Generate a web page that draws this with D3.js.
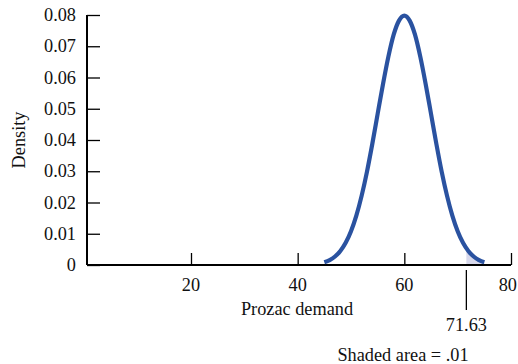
<!DOCTYPE html>
<html><head><meta charset="utf-8">
<script src="https://cdn.jsdelivr.net/npm/d3@7"></script>
<style>body{margin:0;background:#fff}</style>
</head><body>
<svg id="c" width="518" height="364"></svg>
<script>
// Data
const demandX = [45,46,47,48,49,50,51,52,53,54,55,56,57,58,59,60,61,62,63,64,65,66,67,68,69,70,71,72,73,74,75];
const density = [0.00089,0.00158,0.00272,0.00448,0.0071,0.0108,0.0158,0.0222,0.0299,0.0388,0.0484,0.0579,0.0666,0.0737,0.0782,0.0798,0.0782,0.0737,0.0666,0.0579,0.0484,0.0388,0.0299,0.0222,0.0158,0.0108,0.0071,0.00448,0.00272,0.00158,0.00089];
const cutoff = 71.63;
const cutoffDensity = 0.00534;
const xTicks = [20,40,60,80];
const yTicks = [0,0.01,0.02,0.03,0.04,0.05,0.06,0.07,0.08];
const yTickLabels = ["0","0.01","0.02","0.03","0.04","0.05","0.06","0.07","0.08"];

const FONT = "'Liberation Serif','Times New Roman',Times,serif";
const FS = 18.3;
const svg = d3.select("#c");
const x = d3.scaleLinear().domain([0.5,80]).range([87,511]);
const y = d3.scaleLinear().domain([0,0.08]).range([265,15]);

const pts = demandX.map((d,i)=>({x:d,y:density[i]}));
const shadePts = [{x:cutoff,y:cutoffDensity}].concat(pts.filter(p=>p.x>cutoff));

// shaded area
svg.append("path").datum(shadePts)
  .attr("d", d3.area().x(d=>x(d.x)).y0(y(0)).y1(d=>y(d.y)).curve(d3.curveMonotoneX))
  .attr("fill","#d8d9ec");

// axes
const yAxis = svg.append("g").attr("transform",`translate(${x(0.5)},0)`)
  .call(d3.axisRight(y).tickValues(yTicks).tickSize(13).tickFormat(""));
yAxis.select(".domain").attr("d",`M0,${y(0.08)}V${y(0)}`).attr("stroke","#000").attr("stroke-width",2);
yAxis.selectAll(".tick line").attr("stroke","#000").attr("stroke-width",1.3);
svg.selectAll(".ylab").data(yTicks).join("text")
  .attr("x",76).attr("y",d=>y(d)+6).attr("text-anchor","end")
  .attr("font-family",FONT).attr("font-size",FS).attr("fill","#111")
  .text((d,i)=>yTickLabels[i]);

const xAxis = svg.append("g").attr("transform",`translate(0,${y(0)})`)
  .call(d3.axisTop(x).tickValues(xTicks).tickSize(12).tickFormat(""));
xAxis.select(".domain").attr("d",`M${x(0.5)},0H${x(80)}`).attr("stroke","#000").attr("stroke-width",2);
xAxis.selectAll(".tick line").attr("stroke","#000").attr("stroke-width",1.3);
svg.selectAll(".xlab").data(xTicks).join("text")
  .attr("x",d=>Math.min(x(d), 517 - FS*0.5)).attr("y",291).attr("text-anchor","middle")
  .attr("font-family",FONT).attr("font-size",FS).attr("fill","#111")
  .text(d=>d);

// curve
svg.append("path").datum(pts)
  .attr("d", d3.line().x(d=>x(d.x)).y(d=>y(d.y)).curve(d3.curveMonotoneX))
  .attr("fill","none").attr("stroke","#2a52a0").attr("stroke-width",4.2).attr("stroke-linejoin","round");

// cutoff marker
svg.append("line").attr("x1",x(cutoff)).attr("x2",x(cutoff)).attr("y1",270).attr("y2",310)
  .attr("stroke","#000").attr("stroke-width",1.3);

function label(xp,yp,t,rot){
  const el = svg.append("text").attr("text-anchor","middle")
    .attr("font-family",FONT).attr("font-size",FS).attr("fill","#111").text(t);
  if(rot) el.attr("transform",`translate(${xp},${yp}) rotate(-90)`);
  else el.attr("x",xp).attr("y",yp);
}
label(x(cutoff),331,"71.63");
label(297,315,"Prozac demand");
label(25,(y(0)+y(0.08))/2,"Density",true);
label(403,361,"Shaded area = .01");
</script>
</body></html>
